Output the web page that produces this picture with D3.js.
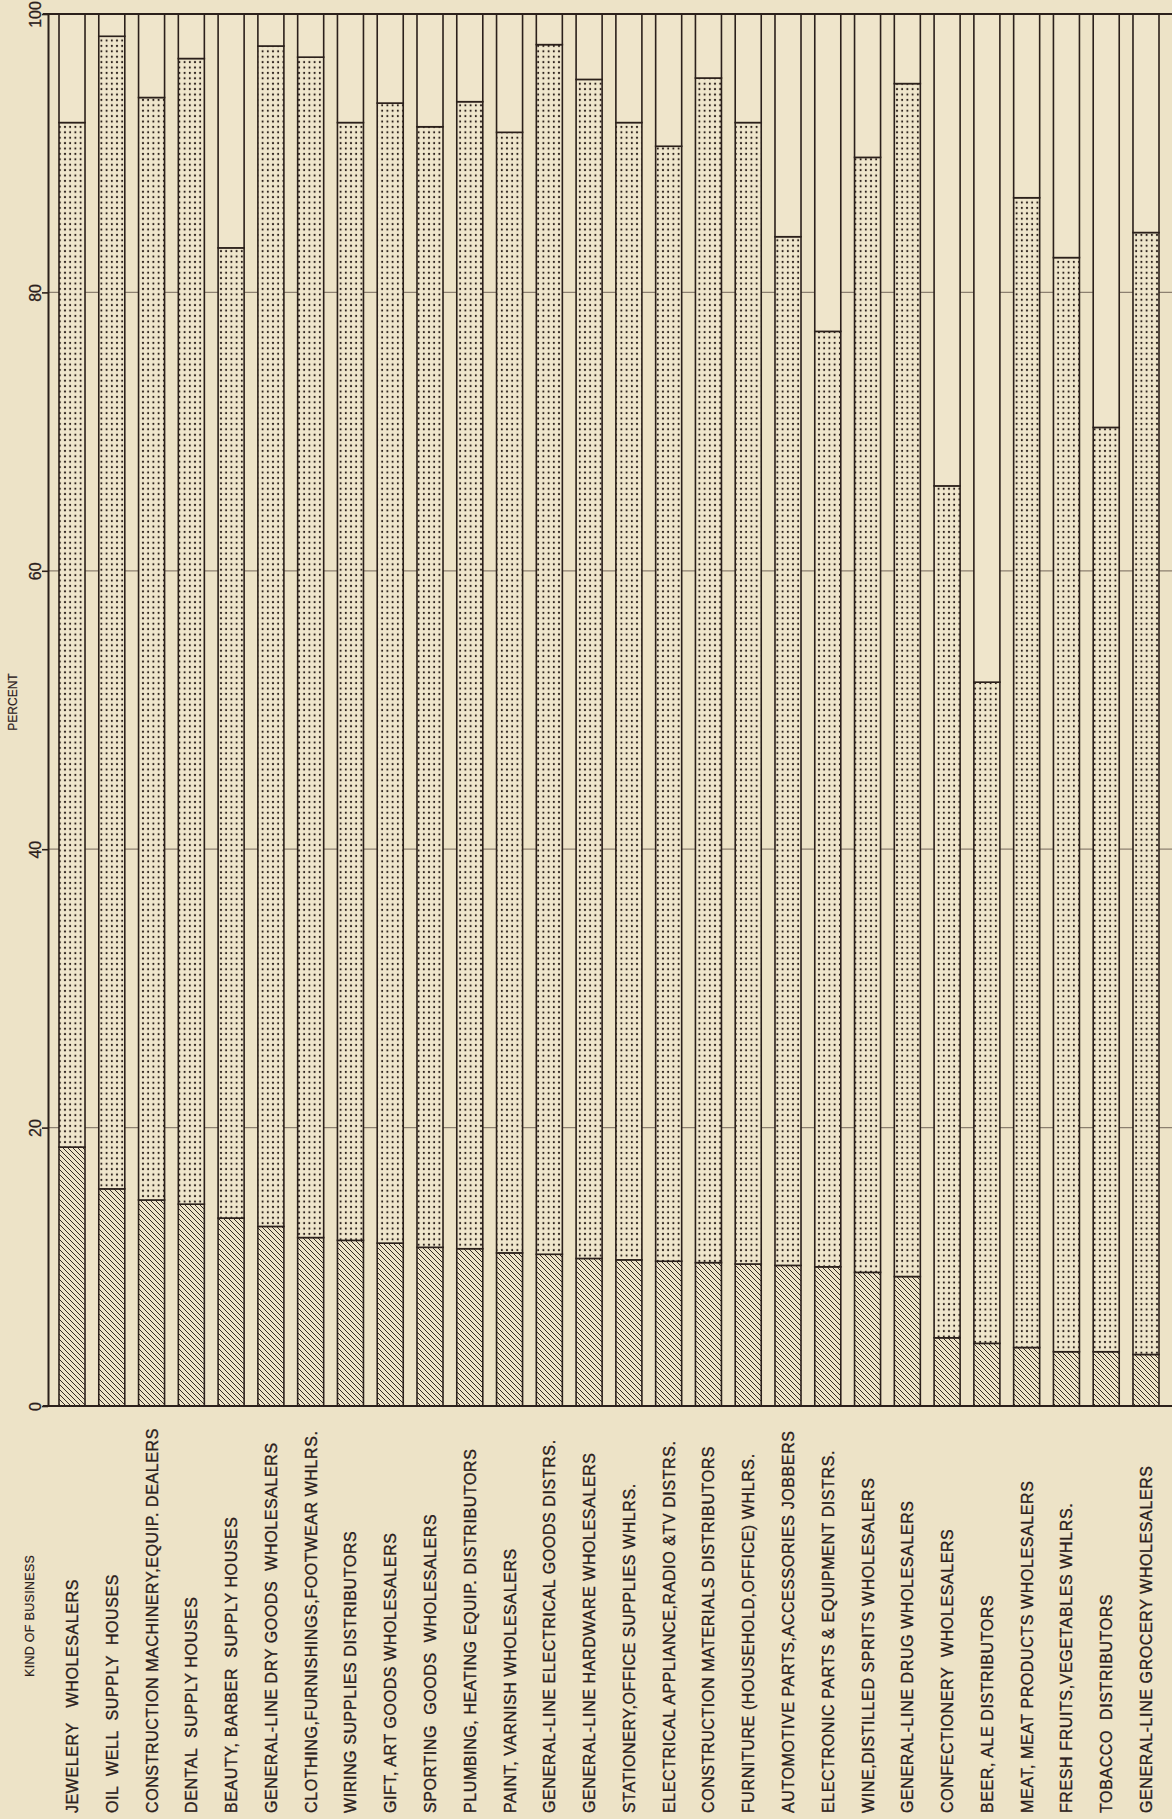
<!DOCTYPE html>
<html>
<head>
<meta charset="utf-8">
<script src="https://cdnjs.cloudflare.com/ajax/libs/d3/7.8.5/d3.min.js"></script>
<style>
  body { margin: 0; background: #ede3c7; }
  svg text { font-family: "Liberation Sans", Arial, sans-serif; fill: #2b201b; white-space: pre; }
</style>
</head>
<body>
<div id="chart"></div>
<script>
// Kind of business, in the order shown (left to right)
var categories = [
    "JEWELERY   WHOLESALERS",
    "OIL  WELL  SUPPLY  HOUSES",
    "CONSTRUCTION MACHINERY,EQUIP. DEALERS",
    "DENTAL  SUPPLY HOUSES",
    "BEAUTY, BARBER  SUPPLY HOUSES",
    "GENERAL-LINE DRY GOODS  WHOLESALERS",
    "CLOTHING,FURNISHINGS,FOOTWEAR WHLRS.",
    "WIRING SUPPLIES DISTRIBUTORS",
    "GIFT, ART GOODS WHOLESALERS",
    "SPORTING  GOODS  WHOLESALERS",
    "PLUMBING, HEATING EQUIP. DISTRIBUTORS",
    "PAINT, VARNISH WHOLESALERS",
    "GENERAL-LINE ELECTRICAL GOODS DISTRS.",
    "GENERAL-LINE HARDWARE WHOLESALERS",
    "STATIONERY,OFFICE SUPPLIES WHLRS.",
    "ELECTRICAL APPLIANCE,RADIO &TV DISTRS.",
    "CONSTRUCTION MATERIALS DISTRIBUTORS",
    "FURNITURE (HOUSEHOLD,OFFICE) WHLRS.",
    "AUTOMOTIVE PARTS,ACCESSORIES JOBBERS",
    "ELECTRONIC PARTS & EQUIPMENT DISTRS.",
    "WINE,DISTILLED SPRITS WHOLESALERS",
    "GENERAL-LINE DRUG WHOLESALERS",
    "CONFECTIONERY  WHOLESALERS",
    "BEER, ALE DISTRIBUTORS",
    "MEAT, MEAT PRODUCTS WHOLESALERS",
    "FRESH FRUITS,VEGETABLES WHLRS.",
    "TOBACCO  DISTRIBUTORS",
    "GENERAL-LINE GROCERY WHOLESALERS"
];

// Percent shares (bottom, middle, top segments)
var hatchedShare = [18.6, 15.6, 14.8, 14.5, 13.5, 12.9, 12.1, 11.9, 11.7, 11.4, 11.3, 11.0, 10.9, 10.6,
                    10.5, 10.4, 10.3, 10.2, 10.1, 10.0, 9.6, 9.3, 4.9, 4.5, 4.2, 3.9, 3.9, 3.7];
var dottedShare  = [73.6, 82.8, 79.2, 82.3, 69.7, 84.8, 84.8, 80.3, 81.9, 80.5, 82.4, 80.5, 86.9, 84.7,
                    81.7, 80.1, 85.1, 82.0, 73.9, 67.2, 80.1, 85.7, 61.2, 47.5, 82.6, 78.6, 66.4, 80.6];
var plainShare   = [7.8, 1.6, 6.0, 3.2, 16.8, 2.3, 3.1, 7.8, 6.4, 8.1, 6.3, 8.5, 2.2, 4.7,
                    7.8, 9.5, 4.6, 7.8, 16.0, 22.8, 10.3, 5.0, 33.9, 48.0, 13.2, 17.5, 29.7, 15.7];

var percentTicks = [0, 20, 40, 60, 80, 100];
var gridTicks = [20, 40, 60, 80];

var svgWidth = 1172;
var svgHeight = 1819;
var ink = "#2b201b";
var paper = "#ede3c7";

var svg = d3.select("#chart")
    .append("svg")
    .attr("width", svgWidth)
    .attr("height", svgHeight)
    .style("display", "block")
    .style("background", paper);

// Fill patterns: diagonal hatch and dot screen
var defs = svg.append("defs");
var hatch = defs.append("pattern")
    .attr("id", "hatch")
    .attr("patternUnits", "userSpaceOnUse")
    .attr("width", 5)
    .attr("height", 5);
hatch.append("rect").attr("width", 5).attr("height", 5).attr("fill", paper);
hatch.append("path")
    .attr("d", "M-1,-1L6,6M-1,4L1,6M4,-1L6,1")
    .attr("stroke", ink)
    .attr("stroke-width", 0.95);

var dots = defs.append("pattern")
    .attr("id", "dots")
    .attr("patternUnits", "userSpaceOnUse")
    .attr("width", 5.2)
    .attr("height", 5.4);
dots.append("rect").attr("width", 5.2).attr("height", 5.4).attr("fill", "#efe6cc");
dots.append("circle").attr("cx", 2.6).attr("cy", 2.7).attr("r", 1.05).attr("fill", ink);

// Scales
var y = d3.scaleLinear().domain([0, 100]).range([1406, 14]);
var x = d3.scaleBand()
    .domain(categories)
    .range([59, 1159])
    .paddingInner(0.346)
    .paddingOuter(0);

// Gridlines (visible only between the bars)
svg.append("g")
    .selectAll("line")
    .data(gridTicks)
    .enter()
    .append("line")
    .attr("x1", 48)
    .attr("x2", svgWidth)
    .attr("y1", d => y(d))
    .attr("y2", d => y(d))
    .attr("stroke", "#8c8070")
    .attr("stroke-width", 1.2);

// Stack the three shares
var table = categories.map(function(c, i) {
    return { name: c, hatched: hatchedShare[i], dotted: dottedShare[i], plain: plainShare[i] };
});
var keys = ["hatched", "dotted", "plain"];
var fills = { hatched: "url(#hatch)", dotted: "url(#dots)", plain: "#efe5cb" };
var series = d3.stack().keys(keys)(table);

svg.append("g")
    .selectAll("g")
    .data(series)
    .enter()
    .append("g")
    .attr("fill", d => fills[d.key])
    .selectAll("rect")
    .data(d => d)
    .enter()
    .append("rect")
    .attr("x", d => x(d.data.name))
    .attr("width", x.bandwidth())
    .attr("y", d => y(d[1]))
    .attr("height", d => y(d[0]) - y(d[1]))
    .attr("stroke", ink)
    .attr("stroke-width", 1.6);

// Frame lines at 0 and 100
svg.append("g")
    .selectAll("line")
    .data([0, 100])
    .enter()
    .append("line")
    .attr("x1", 43)
    .attr("x2", svgWidth)
    .attr("y1", d => y(d))
    .attr("y2", d => y(d))
    .attr("stroke", ink)
    .attr("stroke-width", 2.2);

// Percent axis
var leftAxis = d3.axisLeft(y)
    .tickValues(percentTicks)
    .tickSize(6)
    .tickSizeOuter(0)
    .tickFormat(d3.format("d"));

var yAxis = svg.append("g")
    .attr("transform", "translate(48,0)")
    .call(leftAxis);
yAxis.select(".domain").attr("stroke", ink).attr("stroke-width", 2);
yAxis.selectAll(".tick line").attr("stroke", ink).attr("stroke-width", 1.6);
yAxis.selectAll(".tick text")
    .attr("x", null)
    .attr("dy", null)
    .attr("transform", "translate(-7,0) rotate(-90)")
    .attr("text-anchor", "middle")
    .attr("font-size", 16)
    .attr("fill", ink)
    .attr("stroke", ink)
    .attr("stroke-width", 0.3);

svg.append("text")
    .attr("transform", "translate(17,702) rotate(-90)")
    .attr("text-anchor", "middle")
    .attr("font-size", 12)
    .attr("stroke", ink)
    .attr("stroke-width", 0.2)
    .text("PERCENT");

svg.append("text")
    .attr("transform", "translate(34,1677) rotate(-90)")
    .attr("text-anchor", "start")
    .attr("font-size", 12.5)
    .attr("letter-spacing", 0.3)
    .attr("stroke", ink)
    .attr("stroke-width", 0.2)
    .text("KIND OF BUSINESS");

// Category labels under each bar
svg.append("g")
    .selectAll("text")
    .data(categories)
    .enter()
    .append("text")
    .attr("transform", d => `translate(${x(d) + x.bandwidth() / 2 + 6}, 1813) rotate(-90)`)
    .attr("text-anchor", "start")
    .attr("font-size", 16)
    .attr("letter-spacing", 0.6)
    .attr("stroke", ink)
    .attr("stroke-width", 0.35)
    .text(d => d);
</script>
</body>
</html>
